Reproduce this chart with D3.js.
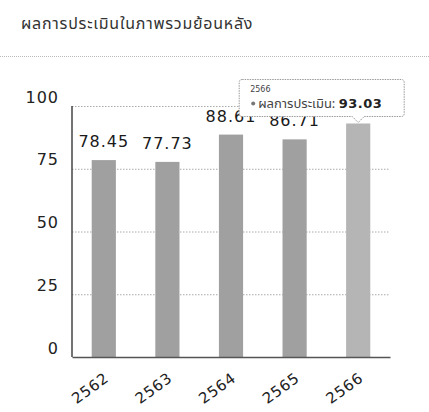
<!DOCTYPE html>
<html><head><meta charset="utf-8">
<script src="https://cdn.jsdelivr.net/npm/d3@7"></script>
<style>
html,body{margin:0;padding:0;background:#fff;}
svg{display:block;}
</style></head>
<body>
<svg id="c" width="429" height="412"></svg>
<script>
const title = "ผลการประเมินในภาพรวมย้อนหลัง";
const categories = ["2562", "2563", "2564", "2565", "2566"];
const values = [78.45, 77.73, 88.61, 86.71, 93.03];
const yTicks = [0, 25, 50, 75, 100];
const seriesName = "ผลการประเมิน";
const tipIndex = 4;

const svg = d3.select("#c");
const numFont = "'DejaVu Sans', sans-serif";
const thaiFont = "'Noto Sans Thai','Noto Sans','DejaVu Sans',sans-serif";

const x = d3.scaleBand().domain(categories).range([72, 390]).paddingInner(0.62).paddingOuter(0.31);
const y = d3.scaleLinear().domain([0, 100]).range([357, 106]);

// title
svg.append("text").attr("x", 21).attr("y", 29).text(title)
  .attr("font-family", thaiFont).attr("font-size", 16).attr("letter-spacing", 0.75).attr("fill", "#333");
// separator
svg.append("line").attr("x1", 0).attr("x2", 429).attr("y1", 56.5).attr("y2", 56.5)
  .attr("stroke", "#bbb").attr("stroke-dasharray", "1,1");

// gridlines
const yAxis = d3.axisLeft(y).tickValues(yTicks).tickSize(-(390 - 72)).tickFormat(d => d);
const ga = svg.append("g").attr("transform", "translate(72,0)").call(yAxis);
ga.select(".domain").remove();
ga.selectAll(".tick line").attr("stroke", "#aaa").attr("stroke-dasharray", "1.5,1.5")
  .attr("stroke-width", 1);
ga.selectAll(".tick text").attr("x", -13).attr("dy", "-0.25em")
  .attr("font-family", numFont).attr("font-size", 16).attr("letter-spacing", 1)
  .attr("fill", "#222");
ga.selectAll(".tick").filter(d => d === 0).select("line").remove();

// bars
svg.append("g").selectAll("rect").data(values).join("rect")
  .attr("x", (d, i) => x(categories[i]))
  .attr("y", d => y(d))
  .attr("width", x.bandwidth())
  .attr("height", d => y(0) - y(d))
  .attr("fill", (d, i) => i === tipIndex ? "#b5b5b5" : "#a0a0a0");

// axes lines
const gx = svg.append("g").attr("transform", `translate(0,${y(0)})`)
  .call(d3.axisBottom(x).tickSize(0).tickPadding(0));
gx.select(".domain").attr("stroke", "#555").attr("stroke-width", 1.5);
gx.selectAll(".tick text")
  .attr("font-family", numFont).attr("font-size", 15).attr("letter-spacing", 0.8)
  .attr("fill", "#222").attr("text-anchor", "end")
  .attr("x", 0).attr("y", 0).attr("dy", "0.35em")
  .attr("transform", "translate(3,19) rotate(-36)");
svg.append("line").attr("x1", 72).attr("x2", 72).attr("y1", y(100)).attr("y2", y(0))
  .attr("stroke", "#444").attr("stroke-width", 1.5);

// value labels
svg.append("g").selectAll("text").data(values).join("text")
  .attr("x", (d, i) => x(categories[i]) + x.bandwidth() / 2)
  .attr("y", d => y(d) - 13)
  .attr("text-anchor", "middle")
  .attr("font-family", numFont).attr("font-size", 16).attr("letter-spacing", 1)
  .attr("fill", "#1a1a1a").text(d => d.toFixed(2));

// tooltip
const tx = x(categories[tipIndex]) + x.bandwidth() / 2;
const ty = y(values[tipIndex]) - 1;
const bw = 165, bh = 37, bl = tx - 119, bb = ty - 6, bt = bb - bh;
const tip = svg.append("g");
tip.append("path")
  .attr("d", `M${bl + 3},${bt} H${bl + bw - 3} Q${bl + bw},${bt} ${bl + bw},${bt + 3} V${bb - 3} Q${bl + bw},${bb} ${bl + bw - 3},${bb} H${tx + 6} L${tx},${ty} L${tx - 6},${bb} H${bl + 3} Q${bl},${bb} ${bl},${bb - 3} V${bt + 3} Q${bl},${bt} ${bl + 3},${bt} Z`)
  .attr("fill", "#fff").attr("stroke", "#999").attr("stroke-width", 1).attr("stroke-dasharray", "1.5,1");
tip.append("text").attr("x", bl + 11).attr("y", bt + 13).text(categories[tipIndex])
  .attr("font-family", numFont).attr("font-size", 8).attr("fill", "#444");
tip.append("circle").attr("cx", bl + 14).attr("cy", bt + 24).attr("r", 2).attr("fill", "#777");
const t2 = tip.append("text").attr("x", bl + 19).attr("y", bt + 28.5)
  .attr("font-family", thaiFont).attr("font-size", 13).attr("fill", "#444");
t2.append("tspan").text(seriesName + ": ");
t2.append("tspan").attr("font-family", numFont).attr("font-weight", "bold").attr("font-size", 13)
  .attr("letter-spacing", 0.5).attr("fill", "#222").text(values[tipIndex].toFixed(2));
</script>
</body></html>
